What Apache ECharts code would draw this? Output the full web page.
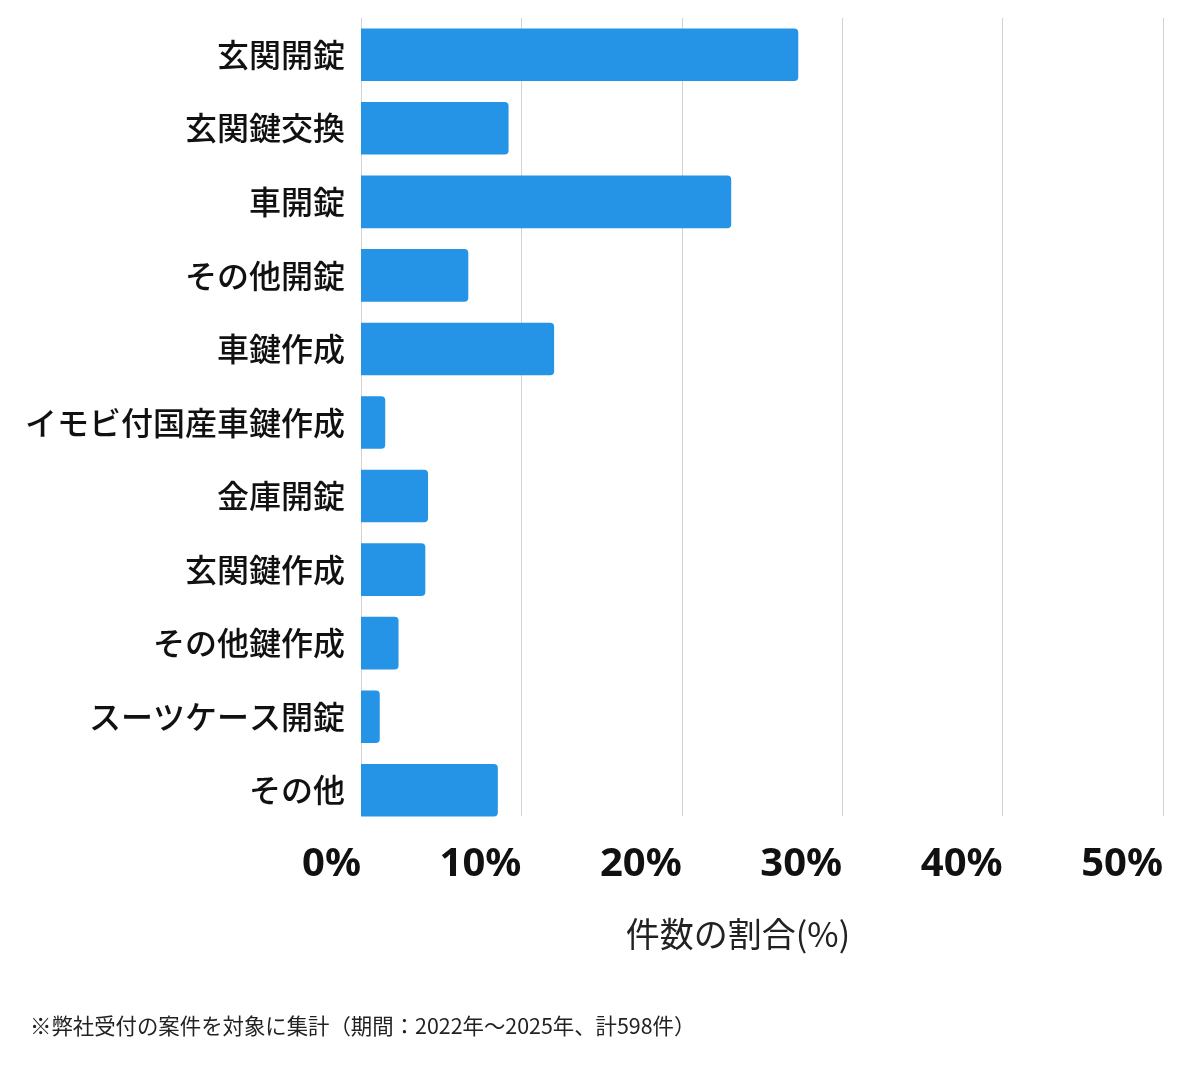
<!DOCTYPE html>
<html>
<head>
<meta charset="utf-8">
<script src="https://cdn.jsdelivr.net/npm/echarts@6/dist/echarts.min.js"></script>
<style>
	html,body{margin:0;padding:0;background:#fff;}
	#main{width:1200px;height:1069px;}
</style>
</head>
<body>
<div id="main"></div>
<script>
// 件数の割合(%) - 計598件
var categories = ['玄関開錠','玄関鍵交換','車開錠','その他開錠','車鍵作成','イモビ付国産車鍵作成','金庫開錠','玄関鍵作成','その他鍵作成','スーツケース開錠','その他'];
var shares = [27.26, 9.20, 23.08, 6.69, 12.04, 1.51, 4.18, 4.01, 2.34, 1.17, 8.53];
var xTicks = [0, 10, 20, 30, 40, 50];
var axisTitle = '件数の割合(%)';
var footnote = '※弊社受付の案件を対象に集計（期間：2022年～2025年、計598件）';

var myChart = echarts.init(document.getElementById('main'));
var font = '"Noto Sans CJK JP","Noto Sans",sans-serif';
var option = {
	animation:false,
	textStyle:{fontFamily:font},
	grid:[
		{left:361,right:37,top:18,bottom:242,containLabel:false},
		// grid lines only: they stop at the last bar
		{left:361,right:37,top:18,bottom:253,containLabel:false}
	],
	xAxis:[{
		type:'value',
		gridIndex:0,
		min:xTicks[0],
		max:xTicks[xTicks.length-1],
		interval:10,
		name:axisTitle,
		nameLocation:'middle',
		nameGap:90,
		nameTextStyle:{fontSize:34,color:'#222',fontFamily:font,padding:[0,48,0,0]},
		axisLine:{show:false},
		axisTick:{show:false},
		axisLabel:{
			formatter:'{value}%',
			align:'right',
			margin:18,
			fontSize:40,
			fontWeight:'bold',
			color:'#111',
			fontFamily:'"Noto Sans",sans-serif'
		},
		splitLine:{show:false}
	},{
		type:'value',
		gridIndex:1,
		min:xTicks[0],
		max:xTicks[xTicks.length-1],
		interval:10,
		axisLine:{show:false},
		axisTick:{show:false},
		axisLabel:{show:false},
		splitLine:{lineStyle:{color:'#d3d3d3',width:1}}
	}],
	yAxis:[{
		type:'category',
		gridIndex:0,
		data:categories,
		inverse:true,
		axisLine:{show:false},
		axisTick:{show:false},
		axisLabel:{fontSize:32,fontWeight:500,color:'#111',margin:16,fontFamily:font}
	},{
		type:'category',
		gridIndex:1,
		data:categories,
		show:false
	}],
	series:[{
		type:'bar',
		xAxisIndex:0,
		yAxisIndex:0,
		data:shares,
		barCategoryGap:'28.5%',
		z:3,
		itemStyle:{color:'#2594e6',borderRadius:[0,4,4,0]}
	}],
	graphic:[{
		type:'text',
		left:30,
		top:1015,
		style:{text:footnote,fontSize:21.4,fill:'#222',fontFamily:font}
	}]
};
myChart.setOption(option);
</script>
</body>
</html>
